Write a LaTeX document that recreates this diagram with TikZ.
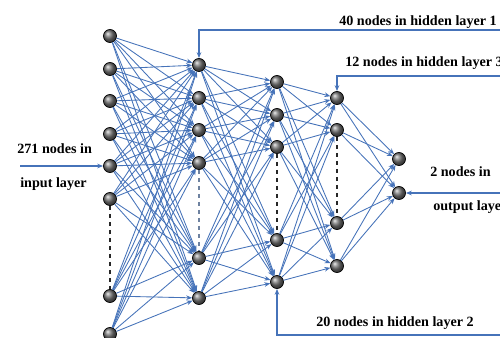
\documentclass[tikz,border=0pt]{standalone}
\usepackage{fontspec}
\setmainfont{Liberation Serif}
\usetikzlibrary{arrows.meta}
\definecolor{EdgeBlue}{RGB}{70,115,185}
\definecolor{GapBlue}{RGB}{110,130,160}

\begin{document}
\begin{tikzpicture}[
  x=0.75pt, y=-0.75pt,
  neuron/.style={
    circle,
    draw=black,
    line width=0.5pt,
    shading=ball,
    ball color=black!55,
    minimum size=9.8pt,
    inner sep=0pt
  },
  link/.style={-{Stealth[length=4.5pt,width=3.5pt]}, line width=0.65pt, EdgeBlue},
  gap/.style={dashed, line width=0.9pt, black!85},
  caption/.style={font=\fontsize{10.6}{12}\selectfont\bfseries, anchor=west, inner sep=0pt}
]
\useasboundingbox (0,0) rectangle (500,338);

% layers
\foreach \y [count=\i] in {36,69,101,134,166,199,296,334}
  \node[neuron] (inp-\i) at (110,\y) {};
\foreach \y [count=\i] in {65,98,130,163,258,298}
  \node[neuron] (hida-\i) at (199,\y) {};
\foreach \y [count=\i] in {82,115,147,240,282}
  \node[neuron] (hidb-\i) at (277,\y) {};
\foreach \y [count=\i] in {98,130,223,266}
  \node[neuron] (hidc-\i) at (337,\y) {};
\foreach \y [count=\i] in {159,193}
  \node[neuron] (out-\i) at (399,\y) {};

% full connections
\foreach \i in {1,...,8}
  \foreach \j in {1,...,6}
    \draw[link] (inp-\i) -- (hida-\j);
\foreach \i in {1,...,6}
  \foreach \j in {1,...,5}
    \draw[link] (hida-\i) -- (hidb-\j);
\foreach \i in {1,...,5}
  \foreach \j in {1,...,4}
    \draw[link] (hidb-\i) -- (hidc-\j);
\foreach \i in {1,...,4}
  \foreach \j in {1,2}
    \draw[link] (hidc-\i) -- (out-\j);

% omitted nodes
\draw[gap] (inp-6) -- (inp-7);
\draw[gap, GapBlue] (hida-4) -- (hida-5);
\draw[gap] (hidb-3) -- (hidb-4);
\draw[gap] (hidc-2) -- (hidc-3);

% captions
\node[caption] (capin) at (17,149) {271 nodes in};
\node[caption] (capin2) at (20,184) {input layer};
\node[caption] (capa) at (339,22) {40 nodes in hidden layer 1};
\node[caption] (capc) at (345,63) {12 nodes in hidden layer 3};
\node[caption] (capout) at (430,172) {2 nodes in};
\node[caption] (capout2) at (433,207) {output layer};
\node[caption] (capb) at (316,323) {20 nodes in hidden layer 2};

\coordinate (feedin) at (20,166);
\coordinate (taga) at (500,30);
\coordinate (tagc) at (500,76);
\coordinate (tagout) at (500,193);
\coordinate (tagb) at (500,335);

\draw[link, line width=0.85pt] (feedin) -- (inp-5);
\draw[link, line width=0.85pt] (taga) -| (hida-1);
\draw[link, line width=0.85pt] (tagc) -| (hidc-1);
\draw[link, line width=0.85pt] (tagout) -- (out-2);
\draw[link, line width=0.85pt] (tagb) -| (hidb-5);
\end{tikzpicture}
\end{document}
